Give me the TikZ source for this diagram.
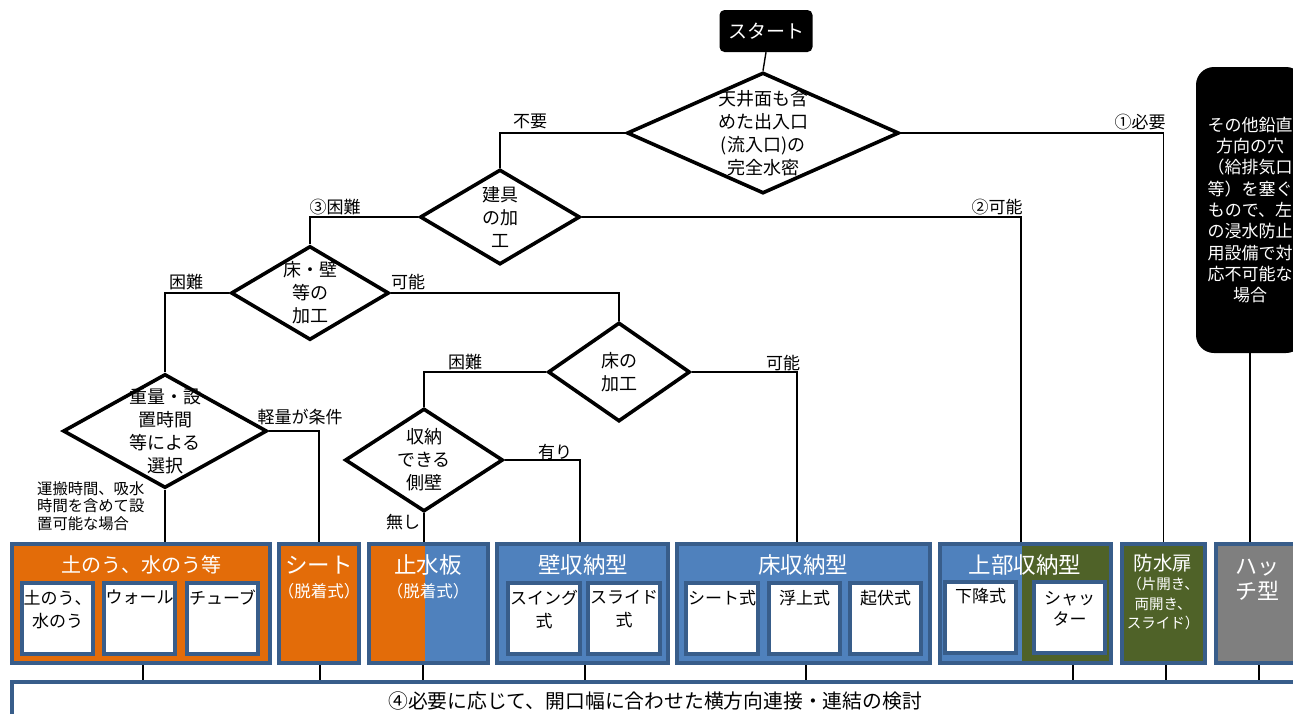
\documentclass[tikz,border=0pt]{standalone}
\usepackage{fontspec}
\setmainfont{Noto Sans CJK JP}
\usetikzlibrary{shapes.geometric}
\definecolor{borg}{HTML}{E36C09}
\definecolor{bblue}{HTML}{4F81BD}
\definecolor{bdark}{HTML}{385D8A}
\definecolor{bolive}{HTML}{4F6228}
\definecolor{bgray}{HTML}{7F7F7F}
\begin{document}
\begin{tikzpicture}[x=1pt,y=-1pt,
  dia/.style={diamond, draw=black, line width=3.6pt, fill=white, inner sep=0pt},
  dtext/.style={font=\fontsize{18}{23}\selectfont, align=center, inner sep=0pt},
  conn/.style={line width=1.4pt},
  lbl/.style={font=\fontsize{17}{19}\selectfont, inner sep=0pt},
  outerbox/.style={draw=bdark, line width=4pt, inner sep=0pt},
  innerbox/.style={draw=bdark, fill=white, line width=4pt, inner sep=0pt, minimum height=71pt},
  ttl/.style={font=\fontsize{22.5}{26}\selectfont, text=white, inner sep=0pt},
  sub/.style={font=\fontsize{16.5}{19.5}\selectfont, text=white, align=center, inner sep=0pt},
  itext/.style={font=\fontsize{17}{23}\selectfont, align=center, inner sep=0pt, anchor=north},
]
\useasboundingbox (0,0) rectangle (1293,713);
\clip (0,0) rectangle (1293,713);

% start
\node[fill=black, rounded corners=5pt, text=white, font=\fontsize{19}{22}\selectfont,
      minimum width=93pt, minimum height=42pt, inner sep=0pt] (start) at (766,31) {スタート};

% diamonds
\node[dia, minimum width=272pt, minimum height=121pt,
      label={[dtext]center:天井面も含\\めた出入口\\(流入口)の\\完全水密}] (d1) at (763,133) {};
\node[dia, minimum width=160pt, minimum height=95pt,
      label={[dtext]center:建具\\の加\\工}] (d2) at (500,217) {};
\node[dia, minimum width=158pt, minimum height=94pt,
      label={[dtext]center:床・壁\\等の\\加工}] (d3) at (310,293) {};
\node[dia, minimum width=204pt, minimum height=114pt,
      label={[dtext]center:重量・設\\置時間\\等による\\選択}] (d4) at (165,431) {};
\node[dia, minimum width=142pt, minimum height=99pt,
      label={[dtext]center:床の\\加工}] (d5) at (619,372) {};
\node[dia, minimum width=158pt, minimum height=103pt,
      label={[dtext]center:収納\\できる\\側壁}] (d6) at (424,460) {};

% right black box
\node[fill=black, rounded corners=18pt, minimum width=108pt, minimum height=286pt,
      text=white, align=center, inner sep=0pt, font=\fontsize{17}{21.3}\selectfont] (other) at (1250,210)
  {その他鉛直\\方向の穴\\（給排気口\\等）を塞ぐ\\もので、左\\の浸水防止\\用設備で対\\応不可能な\\場合};

% bottom boxes
\node[outerbox, fill=borg, minimum width=258pt, minimum height=119pt] (b1) at (141,603.5) {};
\node[outerbox, fill=borg, minimum width=80pt, minimum height=119pt] (b2) at (319,603.5) {};
\node[outerbox, fill=bblue, minimum width=119pt, minimum height=119pt,
      path picture={\fill[borg] (path picture bounding box.north west) rectangle ([xshift=-3.5pt]path picture bounding box.south);}] (b3) at (428.5,603.5) {};
\node[outerbox, fill=bblue, minimum width=171pt, minimum height=119pt] (b4) at (582.5,603.5) {};
\node[outerbox, fill=bblue, minimum width=253pt, minimum height=119pt] (b5) at (803.5,603.5) {};
\node[outerbox, fill=bolive, minimum width=171pt, minimum height=119pt,
      path picture={\fill[bblue] (path picture bounding box.north west) rectangle ([xshift=-3.5pt]path picture bounding box.south);}] (b6) at (1025.5,603.5) {};
\node[outerbox, fill=bolive, minimum width=83pt, minimum height=119pt] (b7) at (1163.5,603.5) {};
\node[outerbox, fill=bgray, minimum width=82pt, minimum height=119pt] (b8) at (1257,603.5) {};

% titles
\node[ttl, font=\fontsize{20}{24}\selectfont] (t1) at (141,565) {土のう、水のう等};
\node[ttl] (t2) at (319,565) {シート};
\node[sub] (s2) at (319,591) {（脱着式）};
\node[ttl] (t3) at (428,565) {止水板};
\node[sub] (s3) at (428,591) {（脱着式）};
\node[ttl] (t4) at (583,565) {壁収納型};
\node[ttl] (t5) at (803,565) {床収納型};
\node[ttl] (t6) at (1025,565) {上部収納型};
\node[font=\fontsize{19.5}{24}\selectfont, text=white, inner sep=0pt] (t7) at (1163,563) {防水扉};
\node[sub, font=\fontsize{14.5}{19.5}\selectfont, anchor=north] (s7) at (1163,577) {（片開き、\\両開き、\\スライド）};
\node[font=\fontsize{22}{25}\selectfont, text=white, align=center, inner sep=0pt] (t8) at (1257,580) {ハッ\\チ型};

% inner boxes
\node[innerbox, minimum width=71pt] (i11) at (57.5,618.5) {};
\node[innerbox, minimum width=71pt] (i12) at (139.5,618.5) {};
\node[innerbox, minimum width=71pt] (i13) at (222.5,618.5) {};
\node[innerbox, minimum width=72pt] (i41) at (544,618.5) {};
\node[innerbox, minimum width=72pt] (i42) at (624,618.5) {};
\node[innerbox, minimum width=72pt] (i51) at (722,618.5) {};
\node[innerbox, minimum width=71pt] (i52) at (804.5,618.5) {};
\node[innerbox, minimum width=71pt] (i53) at (885.5,618.5) {};
\node[innerbox, minimum width=71pt] (i61) at (980.5,617.5) {};
\node[innerbox, minimum width=71pt] (i62) at (1069.5,617.5) {};

\node[itext] (x11) at (57.5,590) {土のう、\\水のう};
\node[itext] (x12) at (139.5,590) {ウォール};
\node[itext] (x13) at (222.5,590) {チューブ};
\node[itext] (x41) at (544,590) {スイング\\式};
\node[itext] (x42) at (624,590) {スライド\\式};
\node[itext] (x51) at (722,590) {シート式};
\node[itext] (x52) at (804.5,590) {浮上式};
\node[itext] (x53) at (885.5,590) {起伏式};
\node[itext] (x61) at (980.5,588) {下降式};
\node[itext, font=\fontsize{17}{21}\selectfont] (x62) at (1069.5,591) {シャッ\\ター};

% bottom bar
\node[draw=bdark, fill=white, line width=4pt, minimum width=1308pt, minimum height=58pt, inner sep=0pt] (bar) at (666,711) {};
\node[font=\fontsize{19.8}{24}\selectfont, inner sep=0pt] (bartext) at (655,701) {④必要に応じて、開口幅に合わせた横方向連接・連結の検討};

% connectors
\draw[conn] (start.south) -- (d1.north);
\draw[conn] (d1.west) -| (d2.north);
\draw[conn] (d1.east) -| (b7.north);
\draw[conn] (d2.west) -| (d3.north);
\draw[conn] (d2.east) -| (1021,0 |- b6.north);
\draw[conn] (d3.west) -| (d4.north);
\draw[conn] (d3.east) -| (d5.north);
\draw[conn] (d5.west) -| (d6.north);
\draw[conn] (d5.east) -| (797,0 |- b5.north);
\draw[conn] (d6.east) -| (580,0 |- b4.north);
\draw[conn] (d6.south) -- (d6.south |- b3.north);
\draw[conn] (d4.east) -| (b2.north);
\draw[conn] (d4.south) -- (d4.south |- b1.north);
\draw[conn] (other.south) -- (other.south |- b8.north);

\foreach \xx/\bb in {143/b1,320/b2,423/b3,585/b4,806/b5,1073/b6,1166/b7,1259/b8}
  \draw[conn] (\xx,0 |- \bb.south) -- (\xx,0 |- bar.north);

% labels
\node[lbl] (l1) at (530,121) {不要};
\node[lbl] (l2) at (1140,122) {①必要};
\node[lbl] (l3) at (335,207) {③困難};
\node[lbl] (l4) at (997,207) {②可能};
\node[lbl] (l5) at (186,282) {困難};
\node[lbl] (l6) at (408,282) {可能};
\node[lbl] (l7) at (465,362) {困難};
\node[lbl] (l8) at (783,363) {可能};
\node[lbl] (l9) at (555,452) {有り};
\node[lbl] (l10) at (403,522) {無し};
\node[lbl] (l11) at (300,417) {軽量が条件};
\node[font=\fontsize{15.3}{17.5}\selectfont, align=left, inner sep=0pt, anchor=west] (l12) at (37,506)
  {運搬時間、吸水\\時間を含めて設\\置可能な場合};
\end{tikzpicture}
\end{document}
